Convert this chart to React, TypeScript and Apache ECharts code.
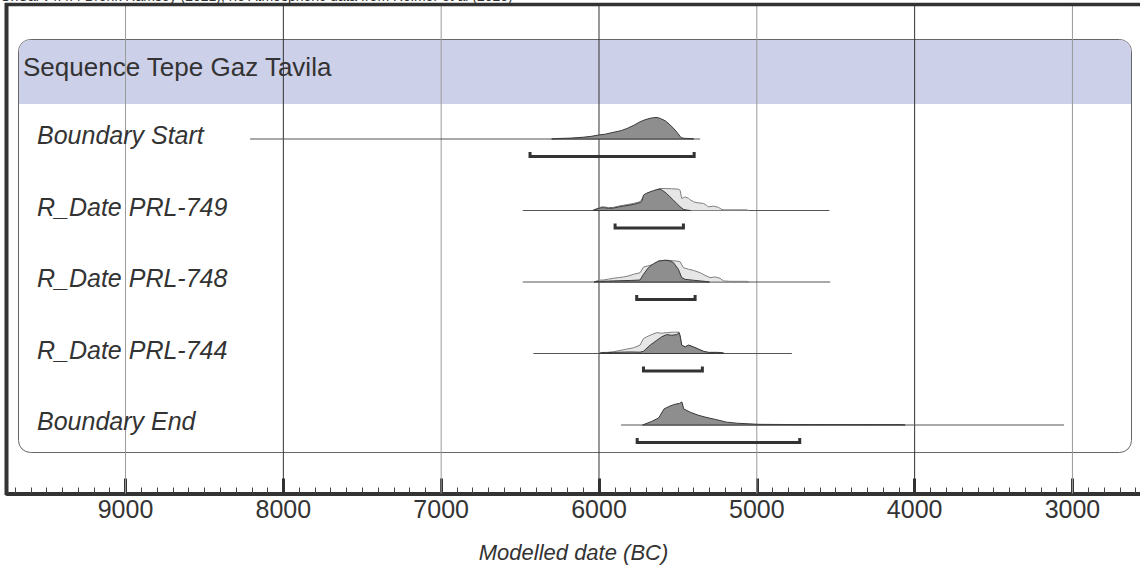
import React, { useEffect, useRef } from "react";
import * as echarts from "echarts";

// ---- data ----
const majorTicks = [3000, 4000, 5000, 6000, 7000, 8000, 9000];
const sequenceName = "Sequence Tepe Gaz Tavila";
const rowLabels = ["Boundary Start", "R_Date PRL-749", "R_Date PRL-748", "R_Date PRL-744", "Boundary End"];
const lineFrom = [8211, 6483, 6483, 6416, 5860];
const lineTo = [5359, 4540, 4535, 4778, 3053];
const rangeFrom = [6437, 5898, 5761, 5718, 5758];
const rangeTo = [5397, 5465, 5391, 5345, 4728];

const boundaryStartPosterior: [number, number][] = [
  [6300, 0], [6266, 0.02], [6180, 0.04], [6101, 0.08], [6050, 0.12], [6012, 0.17], [5960, 0.22],
  [5911, 0.3], [5860, 0.38], [5822, 0.48], [5780, 0.62], [5740, 0.78], [5710, 0.87], [5676, 0.94],
  [5655, 0.97], [5632, 0.98], [5610, 0.93], [5581, 0.83], [5555, 0.68], [5530, 0.5], [5505, 0.3],
  [5480, 0.06], [5460, 0.03], [5423, 0.02], [5400, 0],
];
const prl749Likelihood: [number, number][] = [
  [6040, 0], [6025, 0.05], [5990, 0.15], [5972, 0.17], [5940, 0.13], [5909, 0.14], [5875, 0.2],
  [5845, 0.24], [5810, 0.28], [5782, 0.32], [5760, 0.36], [5740, 0.4], [5725, 0.55], [5708, 0.7],
  [5690, 0.78], [5676, 0.8], [5655, 0.88], [5634, 0.95], [5613, 1.0], [5580, 1.0], [5540, 0.99],
  [5497, 0.97], [5486, 0.92], [5476, 0.55], [5465, 0.58], [5454, 0.62], [5433, 0.55], [5420, 0.48],
  [5402, 0.4], [5385, 0.36], [5370, 0.35], [5338, 0.32], [5320, 0.24], [5307, 0.17], [5290, 0.18],
  [5275, 0.2], [5258, 0.17], [5243, 0.14], [5222, 0.05], [5205, 0.03], [5180, 0.03], [5064, 0.03], [5050, 0],
];
const prl749Posterior: [number, number][] = [
  [6040, 0], [6025, 0.04], [5990, 0.12], [5972, 0.13], [5940, 0.1], [5909, 0.11], [5875, 0.16],
  [5845, 0.2], [5810, 0.24], [5782, 0.28], [5760, 0.32], [5740, 0.36], [5729, 0.41], [5718, 0.7],
  [5700, 0.78], [5676, 0.85], [5655, 0.9], [5634, 0.95], [5613, 0.97], [5595, 0.9], [5571, 0.77],
  [5550, 0.62], [5528, 0.47], [5505, 0.3], [5486, 0.17], [5465, 0.05], [5444, 0.02], [5420, 0],
];
const prl748Likelihood: [number, number][] = [
  [6030, 0], [6014, 0.05], [5990, 0.09], [5972, 0.09], [5940, 0.13], [5909, 0.17], [5877, 0.2],
  [5845, 0.23], [5810, 0.28], [5782, 0.35], [5740, 0.42], [5718, 0.68], [5676, 0.76], [5645, 0.83],
  [5623, 0.95], [5571, 0.99], [5507, 0.95], [5486, 0.92], [5465, 0.65], [5433, 0.58], [5402, 0.53],
  [5359, 0.42], [5328, 0.3], [5296, 0.2], [5264, 0.23], [5233, 0.17], [5212, 0.05], [5169, 0.03],
  [5064, 0.03], [5050, 0],
];
const prl748Posterior: [number, number][] = [
  [6030, 0], [6014, 0.02], [5909, 0.05], [5800, 0.07], [5740, 0.09], [5718, 0.35], [5687, 0.65],
  [5655, 0.83], [5623, 0.95], [5582, 0.99], [5550, 0.96], [5528, 0.88], [5497, 0.58], [5476, 0.2],
  [5454, 0.12], [5402, 0.08], [5359, 0.05], [5320, 0.02], [5300, 0],
];
const prl744Likelihood: [number, number][] = [
  [6000, 0], [5982, 0.05], [5951, 0.05], [5909, 0.08], [5866, 0.14], [5824, 0.2], [5782, 0.26],
  [5740, 0.38], [5718, 0.68], [5697, 0.76], [5666, 0.86], [5634, 0.95], [5602, 0.92], [5571, 0.95],
  [5528, 0.97], [5493, 0.97], [5486, 0.8], [5476, 0.38], [5454, 0.3], [5433, 0.38], [5402, 0.3],
  [5370, 0.2], [5338, 0.1], [5307, 0.05], [5254, 0.05], [5222, 0.04], [5205, 0],
];
const prl744Posterior: [number, number][] = [
  [6000, 0], [5982, 0.04], [5951, 0.04], [5909, 0.05], [5866, 0.06], [5800, 0.07], [5740, 0.06],
  [5718, 0.1], [5676, 0.38], [5634, 0.6], [5602, 0.76], [5571, 0.86], [5539, 0.83], [5507, 0.86],
  [5493, 0.95], [5486, 0.8], [5476, 0.38], [5454, 0.3], [5433, 0.38], [5402, 0.3], [5370, 0.2],
  [5338, 0.1], [5307, 0.05], [5254, 0.05], [5222, 0.04], [5205, 0],
];
const boundaryEndPosterior: [number, number][] = [
  [5724, 0], [5667, 0.16], [5622, 0.32], [5588, 0.73], [5554, 0.85], [5520, 0.94], [5490, 0.98],
  [5475, 1.05], [5463, 0.73], [5418, 0.57], [5373, 0.45], [5328, 0.36], [5260, 0.25], [5192, 0.13],
  [5124, 0.08], [4988, 0.03], [4762, 0.02], [4083, 0.015], [4060, 0],
];

const likelihoods = [null, prl749Likelihood, prl748Likelihood, prl744Likelihood, null];
const posteriors = [boundaryStartPosterior, prl749Posterior, prl748Posterior, prl744Posterior, boundaryEndPosterior];

// ---- layout ----
const FONT = 'Arial, "Liberation Sans", Helvetica, sans-serif';
const X_MIN = 2572;
const X_MAX = 9751;
const ROW_PX = 71.5;
const GRID_TOP = 4;
const GRID_BOTTOM = 78.5;
const PLOT_H = 572 - GRID_TOP - GRID_BOTTOM;
const Y_MIN = -135 / ROW_PX;
const Y_MAX = Y_MIN + PLOT_H / ROW_PX;
const PEAK = 22 / ROW_PX;

export default function App() {
  const ref = useRef<HTMLDivElement>(null);
  useEffect(() => {
    if (!ref.current) return;
    const chart = echarts.init(ref.current, null, { renderer: "svg" });
    const option: any = {
      animation: false,
      backgroundColor: "#ffffff",
      grid: { left: 7, right: 0, top: GRID_TOP, bottom: GRID_BOTTOM, outerBoundsMode: "none" },
      xAxis: {
        type: "value",
        min: X_MIN,
        max: X_MAX,
        inverse: true,
        position: "bottom",
        axisLine: { show: true, onZero: false, lineStyle: { color: "#333", width: 4 } },
        axisTick: { show: true, inside: true, length: 15, customValues: majorTicks, lineStyle: { color: "#333", width: 3 } },
        minorTick: { show: true, splitNumber: 10, length: 6, lineStyle: { color: "#444", width: 1 } },
        axisLabel: {
          customValues: majorTicks,
          formatter: (v: number) => String(v),
          fontSize: 25,
          color: "#333",
          margin: 3,
          fontFamily: FONT,
        },
        splitLine: { show: false },
        name: "Modelled date (BC)",
        nameLocation: "middle",
        nameGap: 48,
        nameTextStyle: { fontSize: 22, fontStyle: "italic", color: "#333", fontFamily: FONT },
      },
      yAxis: { type: "value", min: Y_MIN, max: Y_MAX, inverse: true, show: false },
      series: [
        {
          type: "custom",
          name: "box",
          z: 1,
          clip: false,
          silent: true,
          data: [[X_MIN, 0]],
          renderItem: () => ({
            type: "group",
            children: [
              { type: "rect", shape: { x: 18.5, y: 39.5, width: 1113, height: 413, r: 12 }, style: { fill: "#ffffff", stroke: "#666", lineWidth: 1 } },
              { type: "rect", shape: { x: 19, y: 40, width: 1112, height: 64, r: [11, 11, 0, 0] }, style: { fill: "#cdd0e9" } },
              {
                type: "text",
                x: 23,
                y: 67,
                style: { text: sequenceName, fontSize: 26, fontFamily: FONT, fill: "#333", align: "left", verticalAlign: "middle" },
              },
            ],
          }),
        },
        {
          type: "custom",
          name: "grid lines",
          z: 2,
          clip: false,
          silent: true,
          data: majorTicks.map((v) => [v, 0]),
          renderItem: (params: any, api: any) => {
            const v = api.value(0);
            const a = api.coord([v, Y_MIN]);
            const b = api.coord([v, Y_MAX]);
            return {
              type: "line",
              shape: { x1: a[0], y1: a[1], x2: b[0], y2: b[1] },
              style: { stroke: (v / 1000) % 2 === 1 ? "#9a9a9a" : "#333", lineWidth: 1 },
            };
          },
        },
        {
          type: "custom",
          name: "rows",
          z: 3,
          clip: false,
          silent: true,
          data: rowLabels.map((_, i) => [lineTo[i], i]),
          renderItem: (params: any, api: any) => {
            const i = params.dataIndex;
            const children: any[] = [];
            const p1 = api.coord([lineFrom[i], i]);
            const p2 = api.coord([lineTo[i], i]);
            children.push({ type: "line", shape: { x1: p1[0], y1: p1[1], x2: p2[0], y2: p2[1] }, style: { stroke: "#555", lineWidth: 1 } });
            const poly = (pts: [number, number][], fill: string, stroke: string) => {
              const points = pts.map(([yr, d]) => api.coord([yr, i - d * PEAK]));
              return { type: "polygon", shape: { points }, style: { fill, stroke, lineWidth: 1 } };
            };
            const lk = likelihoods[i];
            if (lk) children.push(poly(lk, "#e6e6e6", "#808080"));
            children.push(poly(posteriors[i], "#8e8e8e", "#3a3a3a"));
            const b1 = api.coord([rangeFrom[i], i]);
            const b2 = api.coord([rangeTo[i], i]);
            const by = b1[1] + 17.5;
            children.push({
              type: "polyline",
              shape: { points: [[b1[0], by - 4.5], [b1[0], by], [b2[0], by], [b2[0], by - 4.5]] },
              style: { stroke: "#333", lineWidth: 3, fill: "none" },
            });
            children.push({
              type: "text",
              x: 37,
              y: p1[1] - 4,
              style: { text: rowLabels[i], fontSize: 25, fontStyle: "italic", fontFamily: FONT, fill: "#333", align: "left", verticalAlign: "middle" },
            });
            return { type: "group", children };
          },
        },
      ],
      graphic: {
        elements: [
          {
            type: "text",
            left: 0,
            top: -11,
            z: 50,
            style: { text: "OxCal v4.4.4 Bronk Ramsey (2021); r:5 Atmospheric data from Reimer et al (2020)", fontSize: 14, fontFamily: FONT, fill: "#333" },
          },
          { type: "line", z: 50, shape: { x1: 5, y1: 4.5, x2: 1140, y2: 4.5 }, style: { stroke: "#333", lineWidth: 3.5 } },
          { type: "line", z: 50, shape: { x1: 6.5, y1: 3, x2: 6.5, y2: 495 }, style: { stroke: "#333", lineWidth: 4 } },
        ],
      },
    };
    chart.setOption(option);
    return () => chart.dispose();
  }, []);
  return <div ref={ref} style={{ position: "fixed", left: 0, top: 0, width: 1140, height: 572, background: "#fff" }} />;
}
